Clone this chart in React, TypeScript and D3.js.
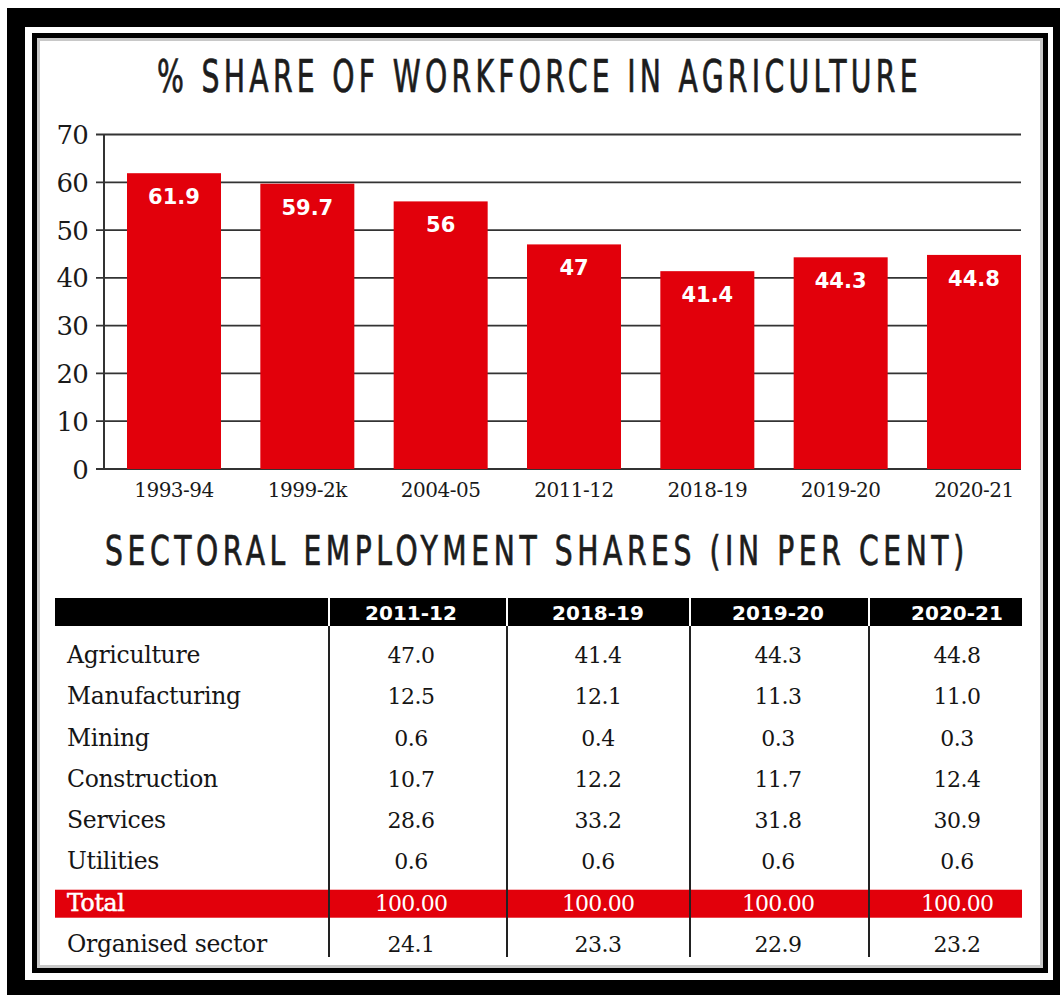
import React, { useLayoutEffect, useRef } from "react";
import * as d3 from "d3";

// ---------- data ----------
const periods = ["1993-94", "1999-2k", "2004-05", "2011-12", "2018-19", "2019-20", "2020-21"];
const agriShare = [61.9, 59.7, 56, 47, 41.4, 44.3, 44.8];
const yTickValues = [0, 10, 20, 30, 40, 50, 60, 70];

const tableYears = ["2011-12", "2018-19", "2019-20", "2020-21"];
const sectors = ["Agriculture", "Manufacturing", "Mining", "Construction", "Services", "Utilities"];
const share201112 = ["47.0", "12.5", "0.6", "10.7", "28.6", "0.6"];
const share201819 = ["41.4", "12.1", "0.4", "12.2", "33.2", "0.6"];
const share201920 = ["44.3", "11.3", "0.3", "11.7", "31.8", "0.6"];
const share202021 = ["44.8", "11.0", "0.3", "12.4", "30.9", "0.6"];
const totals = ["100.00", "100.00", "100.00", "100.00"];
const organised = ["24.1", "23.3", "22.9", "23.2"];

const TITLE1 = "% SHARE OF WORKFORCE IN AGRICULTURE";
const TITLE2 = "SECTORAL EMPLOYMENT SHARES (IN PER CENT)";

const W = 1060;
const H = 995;
const RED = "#e2000b";
const SERIF = "'DejaVu Serif', serif";
const BOLD_SANS = "'DejaVu Sans', sans-serif";
const COND = "'DejaVu Sans Condensed', 'DejaVu Sans', sans-serif";

function FitText({ x0, x1, y, size, text, spacing }: { x0: number; x1: number; y: number; size: number; text: string; spacing: number }) {
  const ref = useRef<SVGTextElement>(null);
  useLayoutEffect(() => {
    const el = ref.current;
    if (!el) return;
    el.removeAttribute("transform");
    const bb = el.getBBox();
    const s = (x1 - x0) / bb.width;
    const dx = bb.x;
    el.setAttribute("transform", `translate(${x0},0) scale(${s},1) translate(${-dx},0)`);
  }, [x0, x1, text]);
  return (
    <text
      ref={ref}
      x={0}
      y={y}
      fontSize={size}
      fontFamily={COND}
      fontStretch="condensed"
      letterSpacing={spacing}
      fill="#1c1c1c"
      stroke="#1c1c1c"
      strokeWidth={0.7}
    >
      {text}
    </text>
  );
}

export default function App() {
  const y = d3.scaleLinear().domain([0, 70]).range([469, 134.5]);
  const x = d3.scaleBand<string>().domain(periods).range([127, 1021]).paddingInner(0.295).paddingOuter(0);

  const colCenters = [411, 598, 778, 957];
  const dividers = [329, 507, 690, 869];
  const rowLabels = [...sectors, "Total", "Organised sector"];
  const rowY = d3.scalePoint<string>().domain(rowLabels).range([663, 952]);
  const columns = [share201112, share201819, share201920, share202021];

  const totalY = rowY("Total") as number;

  return (
    <div style={{ position: "absolute", left: 0, top: 0 }}>
      <svg width={W} height={H} style={{ display: "block" }}>
        <rect x={0} y={0} width={W} height={H} fill="#fff" />
        {/* frame */}
        <rect x={7} y={8} width={W - 7} height={H - 8} fill="#000" />
        <rect x={25} y={27} width={1028} height={953} fill="#fff" />
        <rect x={34.5} y={35.5} width={1011} height={935} fill="none" stroke="#000" strokeWidth={5} />
        <rect x={38.5} y={39.5} width={1003} height={927} fill="none" stroke="#c8c8c8" strokeWidth={3} />

        {/* chart title */}
        <FitText x0={157} x1={922} y={92} size={44} text={TITLE1} spacing={6} />

        {/* gridlines */}
        {yTickValues.map((t) => (
          <line key={"g" + t} x1={96} x2={1021} y1={y(t)} y2={y(t)} stroke="#333" strokeWidth={1.8} />
        ))}
        <line x1={104} x2={104} y1={y(70)} y2={y(0)} stroke="#333" strokeWidth={2} />
        {yTickValues.map((t) => (
          <text key={"t" + t} x={88} y={y(t) + 9.5} textAnchor="end" fontSize={26} fontFamily={SERIF} fill="#1a1a1a" letterSpacing={-0.8}>
            {t}
          </text>
        ))}

        {/* bars */}
        {periods.map((p, i) => {
          const bx = x(p) as number;
          const top = y(agriShare[i]);
          return (
            <g key={p}>
              <rect x={bx} y={top} width={x.bandwidth()} height={y(0) - top} fill={RED} />
              <text
                x={bx + x.bandwidth() / 2}
                y={top + 31}
                textAnchor="middle"
                fontSize={21}
                fontWeight="bold"
                fontFamily={BOLD_SANS}
                fill="#fff"
              >
                {String(agriShare[i])}
              </text>
              <text x={bx + x.bandwidth() / 2} y={497} textAnchor="middle" fontSize={20} fontFamily={SERIF} fill="#1a1a1a" letterSpacing={-0.5}>
                {p}
              </text>
            </g>
          );
        })}

        {/* table title */}
        <FitText x0={105} x1={969} y={565} size={41} text={TITLE2} spacing={6} />

        {/* table header */}
        <rect x={55} y={598} width={967} height={28} fill="#000" />
        {tableYears.map((yr, i) => (
          <text key={yr} x={colCenters[i]} y={620} textAnchor="middle" fontSize={20} fontWeight="bold" fontFamily={BOLD_SANS} fill="#fff">
            {yr}
          </text>
        ))}

        {/* total band */}
        <rect x={55} y={totalY - 21} width={967} height={28} fill={RED} />

        {/* dividers */}
        {dividers.map((dx) => (
          <g key={"d" + dx}>
            <line x1={dx} x2={dx} y1={598} y2={626} stroke="#fff" strokeWidth={2} />
            <line x1={dx} x2={dx} y1={626} y2={957} stroke="#222" strokeWidth={2} />
          </g>
        ))}

        {/* row labels */}
        {rowLabels.map((r) => (
          <text
            key={r}
            x={67}
            y={rowY(r) as number}
            fontSize={23.5}
            fontFamily={SERIF}
            fill={r === "Total" ? "#fff" : "#151515"}
            stroke={r === "Total" ? "#fff" : "none"}
            strokeWidth={0.5}
            letterSpacing={-0.3}
          >
            {r}
          </text>
        ))}

        {/* sector values */}
        {columns.map((col, ci) =>
          col.map((v, ri) => (
            <text
              key={ci + "-" + ri}
              x={colCenters[ci]}
              y={rowY(sectors[ri]) as number}
              textAnchor="middle"
              fontSize={22}
              fontFamily={SERIF}
              fill="#151515"
              letterSpacing={-0.5}
            >
              {v}
            </text>
          ))
        )}
        {totals.map((v, ci) => (
          <text key={"tot" + ci} x={colCenters[ci]} y={totalY} textAnchor="middle" fontSize={22} fontFamily={SERIF} fill="#fff" letterSpacing={-0.8}>
            {v}
          </text>
        ))}
        {organised.map((v, ci) => (
          <text
            key={"org" + ci}
            x={colCenters[ci]}
            y={rowY("Organised sector") as number}
            textAnchor="middle"
            fontSize={22}
            fontFamily={SERIF}
            fill="#151515"
            letterSpacing={-0.5}
          >
            {v}
          </text>
        ))}
      </svg>
    </div>
  );
}
